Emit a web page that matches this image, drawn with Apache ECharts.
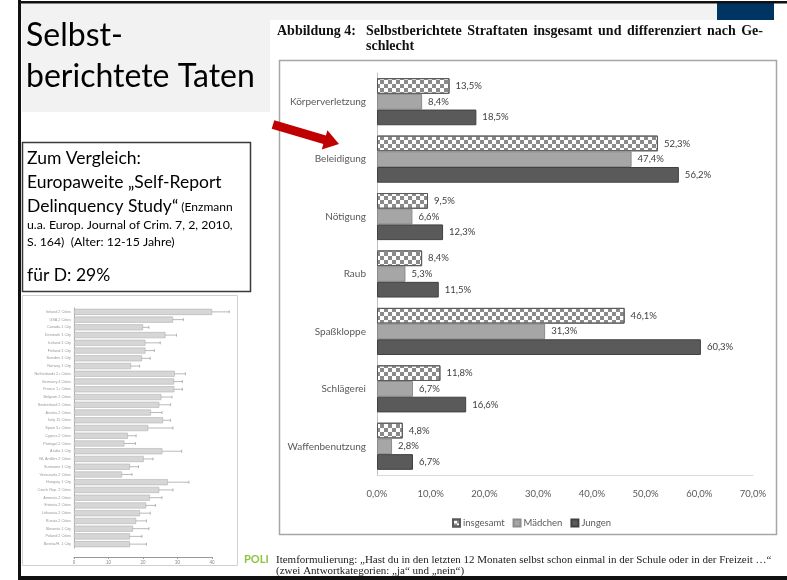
<!DOCTYPE html>
<html>
<head>
<meta charset="utf-8">
<script src="https://cdn.jsdelivr.net/npm/echarts@6/dist/echarts.min.js"></script>
<style>
  html, body { margin: 0; padding: 0; background: #fff; }
  #chart { width: 787px; height: 580px; }
</style>
</head>
<body>
<div id="chart"></div>
<script>
// Hauptdiagramm: Selbstberichtete Straftaten
var delikte = ['Körperverletzung', 'Beleidigung', 'Nötigung', 'Raub', 'Spaßkloppe', 'Schlägerei', 'Waffenbenutzung'];
var insgesamt = [13.5, 52.3, 9.5, 8.4, 46.1, 11.8, 4.8];
var maedchen = [8.4, 47.4, 6.6, 5.3, 31.3, 6.7, 2.8];
var jungen = [18.5, 56.2, 12.3, 11.5, 60.3, 16.6, 6.7];

// kleines Vergleichsbild (Self-Report Delinquency Study)
var laender = ['Ireland 2 Cities', 'USA 2 Cities', 'Canada 1 City', 'Denmark 1 City', 'Iceland 1 City',
  'Finland 1 City', 'Sweden 1 City', 'Norway 1 City', 'Netherlands 2+ Cities', 'Germany 4 Cities',
  'France 1+ Cities', 'Belgium 2 Cities', 'Switzerland 2 Cities', 'Austria 2 Cities', 'Italy 15 Cities',
  'Spain 3+ Cities', 'Cyprus 2 Cities', 'Portugal 2 Cities', 'Aruba 1 City', 'NL Antilles 2 Cities',
  'Suriname 1 City', 'Venezuela 2 Cities', 'Hungary 1 City', 'Czech Rep. 2 Cities', 'Armenia 2 Cities',
  'Estonia 2 Cities', 'Lithuania 2 Cities', 'Russia 2 Cities', 'Slovenia 1 City', 'Poland 2 Cities',
  'Bosnia/H. 1 City'];
var landWerte = [40, 28.7, 20, 26.5, 20.7, 20.7, 19.7, 16.5, 29.2, 29, 29.1, 25.3, 24.7, 22.3, 25.8,
  21.5, 15.6, 14.6, 25.6, 20.2, 16.2, 13.9, 27.2, 24.7, 22, 20.9, 19.1, 18, 17.1, 16.2, 16.2];
var landMin = [34.6, 26, 18.3, 23, 17, 17.8, 17.3, 13.9, 26, 26, 26, 22.1, 21.7, 19.2, 23.6,
  14.9, 12.9, 11.5, 20.7, 17.8, 13.9, 11, 21, 20.7, 18.7, 18.3, 15.8, 14.9, 12.9, 13.4, 11.9];
var landMax = [45, 31.7, 21.7, 29.7, 25, 23.3, 22.1, 19, 32.3, 31.4, 31.4, 28.4, 28, 25.5, 28,
  28.7, 18, 17.8, 31.2, 22.9, 18.7, 16.8, 33.3, 28.7, 25.5, 23.6, 22.1, 21, 21.7, 19.7, 21];

var titelWoerter = ['Selbstberichtete', 'Straftaten', 'insgesamt', 'und', 'differenziert', 'nach', 'Ge-'];

function prozent(v) {
  return v.toFixed(1).replace('.', ',') + '%';
}

var chart = echarts.init(document.getElementById('chart'));

// Blocksatz für die erste Titelzeile (wie im Original)
var titelFont = 'bold 14px "Liberation Serif"';
var titelLinks = 366, titelRechts = 763;
var mctx = document.createElement('canvas').getContext('2d');
mctx.font = titelFont;
var breiten = titelWoerter.map(function (w) { return mctx.measureText(w).width; });
var summe = breiten.reduce(function (a, b) { return a + b; }, 0);
var luecke = (titelRechts - titelLinks - summe) / (titelWoerter.length - 1);
var titelElemente = [];
var xPos = titelLinks;
titelWoerter.forEach(function (w, i) {
  titelElemente.push({ type: 'text', x: xPos, y: 31, style: { text: w, font: titelFont, fill: '#111', verticalAlign: 'middle' } });
  xPos += breiten[i] + luecke;
});

var labelStyle = {
  show: true,
  position: 'right',
  distance: 4,
  fontSize: 9.5,
  fontFamily: 'Lato',
  color: '#404040',
  backgroundColor: '#fff',
  padding: [1, 2],
  formatter: function (p) { return prozent(p.value); }
};

function txt(x, y, text, font, fill) {
  return { type: 'text', x: x, y: y, style: { text: text, font: font, fill: fill || '#000', verticalAlign: 'middle' } };
}

var option = {
  animation: false,
  backgroundColor: '#fff',
  grid: [
    { left: 377, top: 73, width: 376, height: 402 },
    { left: 74, top: 308, width: 138, height: 240 }
  ],
  xAxis: [
    {
      gridIndex: 0, type: 'value', min: 0, max: 70, interval: 10,
      axisLine: { show: true, lineStyle: { color: '#d9d9d9' } },
      axisTick: { show: false },
      splitLine: { show: false },
      axisLabel: { margin: 14, fontSize: 9.5, fontFamily: 'Lato', color: '#595959', formatter: prozent }
    },
    {
      gridIndex: 1, type: 'value', min: 0, max: 40, interval: 10, offset: 9,
      axisLine: { show: true, lineStyle: { color: '#999' } },
      axisTick: { show: true, length: 2, lineStyle: { color: '#999' } },
      splitLine: { show: false },
      axisLabel: { margin: 3, fontSize: 4.5, color: '#888' }
    }
  ],
  yAxis: [
    {
      gridIndex: 0, type: 'category', data: delikte, inverse: true,
      axisLine: { show: true, lineStyle: { color: '#bfbfbf' } },
      axisTick: { show: false },
      axisLabel: { margin: 11, fontSize: 10, fontFamily: 'Lato', color: '#595959' }
    },
    {
      gridIndex: 1, type: 'category', data: laender, inverse: true,
      axisLine: { show: true, lineStyle: { color: '#aaa' } },
      axisTick: { show: false },
      axisLabel: { margin: 3, fontSize: 3.8, color: '#999' }
    }
  ],
  legend: {
    left: 447, top: 513, icon: 'rect',
    itemWidth: 7, itemHeight: 7, itemGap: 8,
    textStyle: { fontSize: 9.5, fontFamily: 'Lato', color: '#595959', padding: [0, 0, 0, -2] },
    data: ['insgesamt', 'Mädchen', 'Jungen']
  },
  series: [
    {
      name: 'insgesamt', type: 'bar', data: insgesamt,
      xAxisIndex: 0, yAxisIndex: 0,
      barGap: '0%', barCategoryGap: '18%',
      itemStyle: {
        color: '#fff', borderColor: '#595959', borderWidth: 1,
        decal: {
          symbol: 'rect', symbolSize: 1, rotation: 0,
          dashArrayX: [[4, 4], [0, 4, 4, 0]], dashArrayY: [4, 0],
          color: '#8a8a8a'
        }
      },
      label: labelStyle
    },
    {
      name: 'Mädchen', type: 'bar', data: maedchen,
      xAxisIndex: 0, yAxisIndex: 0,
      barGap: '0%', barCategoryGap: '18%',
      itemStyle: { color: '#a6a6a6', borderColor: '#8c8c8c', borderWidth: 1 },
      label: labelStyle
    },
    {
      name: 'Jungen', type: 'bar', data: jungen,
      xAxisIndex: 0, yAxisIndex: 0,
      barGap: '0%', barCategoryGap: '18%',
      itemStyle: { color: '#5a5a5a', borderColor: '#404040', borderWidth: 1 },
      label: labelStyle
    },
    {
      name: 'Land', type: 'bar', data: landWerte,
      xAxisIndex: 1, yAxisIndex: 1,
      barCategoryGap: '22%',
      itemStyle: { color: '#d6d6d6', borderColor: '#a8a8a8', borderWidth: 0.5 },
      silent: true
    },
    {
      name: 'KI', type: 'custom',
      xAxisIndex: 1, yAxisIndex: 1,
      encode: { x: [1, 2], y: 0 },
      data: laender.map(function (l, i) { return [i, landMin[i], landMax[i]]; }),
      renderItem: function (params, api) {
        var lo = api.coord([api.value(1), api.value(0)]);
        var hi = api.coord([api.value(2), api.value(0)]);
        var st = { stroke: '#8a8a8a', lineWidth: 0.6 };
        return {
          type: 'group',
          children: [
            { type: 'line', shape: { x1: lo[0], y1: lo[1], x2: hi[0], y2: hi[1] }, style: st },
            { type: 'line', shape: { x1: lo[0], y1: lo[1] - 1.5, x2: lo[0], y2: lo[1] + 1.5 }, style: st },
            { type: 'line', shape: { x1: hi[0], y1: hi[1] - 1.5, x2: hi[0], y2: hi[1] + 1.5 }, style: st }
          ]
        };
      },
      silent: true
    }
  ],
  graphic: [
    // Folienrahmen
    { type: 'rect', z: -10, shape: { x: 20, y: 3, width: 697, height: 17 }, style: { fill: '#f2f2f2' } },
    { type: 'rect', z: -10, shape: { x: 22, y: 20, width: 248, height: 92 }, style: { fill: '#f2f2f2' } },
    { type: 'rect', z: -9, shape: { x: 717, y: 3, width: 57, height: 17 }, style: { fill: '#003462' } },
    { type: 'rect', z: -8, shape: { x: 19, y: 1, width: 768, height: 2.5 }, style: { fill: '#111' } },
    { type: 'rect', z: -8, shape: { x: 18, y: 0, width: 3, height: 580 }, style: { fill: '#111' } },
    { type: 'rect', z: -8, shape: { x: 18, y: 576, width: 769, height: 4 }, style: { fill: '#111' } },
    // Rahmen um das Diagramm
    { type: 'rect', z: -10, shape: { x: 279.5, y: 60.5, width: 497, height: 474 }, style: { fill: 'none', stroke: '#a6a6a6', lineWidth: 1.5 } },
    // kleines Bild
    { type: 'rect', z: -10, shape: { x: 22.5, y: 295.5, width: 215, height: 270 }, style: { fill: 'none', stroke: '#d0d0d0', lineWidth: 1 } },
    // Textfeld
    { type: 'rect', z: -5, shape: { x: 22.5, y: 142.5, width: 228, height: 149 }, style: { fill: '#fff', stroke: '#3a3a3a', lineWidth: 1.5 } },
    // roter Pfeil
    {
      type: 'polygon', z: 10,
      shape: { points: [[274.3, 120.2], [325.9, 135.5], [327.4, 130.2], [339, 144], [321.8, 149.4], [323.3, 144.1], [271.7, 128.8]] },
      style: { fill: '#c00000' }
    },
    // Folientitel
    txt(26, 36, 'Selbst-', '32px Lato'),
    txt(26, 77, 'berichtete Taten', '32px Lato'),
    // Textfeld-Inhalt
    txt(27, 158, 'Zum Vergleich:', '17.5px Lato'),
    txt(27, 182, 'Europaweite „Self-Report', '17.5px Lato'),
    {
      type: 'text', x: 27, y: 206,
      style: {
        text: '{a|Delinquency Study“}{b| (Enzmann}',
        verticalAlign: 'middle',
        rich: {
          a: { font: '17.5px Lato', fill: '#000' },
          b: { font: '12px Lato', fill: '#000', padding: [3, 0, 0, 0] }
        }
      }
    },
    txt(27, 225, 'u.a. Europ. Journal of Crim. 7, 2, 2010,', '12.3px Lato'),
    txt(27, 242, 'S. 164)  (Alter: 12-15 Jahre)', '12.3px Lato'),
    txt(27, 275, 'für D: 29%', '17.5px Lato'),
    // Abbildungstitel
    txt(277, 31, 'Abbildung 4:', titelFont, '#111'),
    txt(titelLinks, 46, 'schlecht', titelFont, '#111'),
    // Fußnote
    txt(276, 560, 'Itemformulierung: „Hast du in den letzten 12 Monaten selbst schon einmal in der Schule oder in der Freizeit …“', '11px "Liberation Serif"', '#222'),
    txt(276, 571, '(zwei Antwortkategorien: „ja“ und „nein“)', '11px "Liberation Serif"', '#222'),
    txt(244, 559, 'POLI', 'bold 11px Lato', '#8cc43c')
  ].concat(titelElemente)
};

chart.setOption(option);
</script>
</body>
</html>
